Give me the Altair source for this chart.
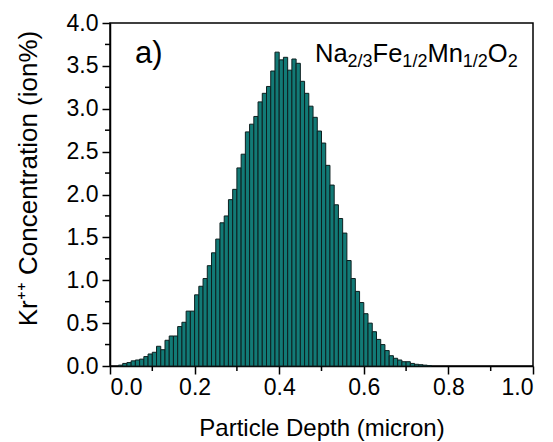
import altair as alt
import numpy as np
import pandas as pd

# ---- data ----
bin_width = 0.01
depth_start = [round(0.02 + 0.01 * i, 2) for i in range(74)]
concentration = [
    0.01, 0.03, 0.04, 0.06, 0.07, 0.08, 0.11, 0.14, 0.16, 0.23,
    0.19, 0.30, 0.35, 0.35, 0.46, 0.51, 0.64, 0.64, 0.83, 0.93,
    1.02, 1.17, 1.32, 1.48, 1.67, 1.75, 1.94, 2.06, 2.31, 2.47,
    2.73, 2.82, 2.91, 3.08, 3.18, 3.26, 3.44, 3.66, 3.57, 3.60,
    3.45, 3.58, 3.53, 3.32, 3.18, 3.03, 2.90, 2.74, 2.60, 2.34,
    2.11, 1.88, 1.72, 1.55, 1.23, 1.02, 0.87, 0.74, 0.61, 0.50,
    0.40, 0.31, 0.25, 0.18, 0.12, 0.09, 0.07, 0.05, 0.05, 0.03,
    0.02, 0.015, 0.01, 0.005,
]
x_major = [0.0, 0.2, 0.4, 0.6, 0.8, 1.0]
x_minor = [0.1, 0.3, 0.5, 0.7, 0.9]
y_major = [0.0, 0.5, 1.0, 1.5, 2.0, 2.5, 3.0, 3.5, 4.0]
y_minor = [0.25, 0.75, 1.25, 1.75, 2.25, 2.75, 3.25, 3.75]

x_title = "Particle Depth (micron)"
y_title = "Kr\u207a\u207a Concentration (ion%)"
panel_label = "a)"
formula_parts = [("Na", False), ("2/3", True), ("Fe", False), ("1/2", True),
                 ("Mn", False), ("1/2", True), ("O", False), ("2", True)]

W, H = 423, 343
FONT = "Liberation Sans"

df = pd.DataFrame({"depth": depth_start,
                   "depth_end": [d + bin_width for d in depth_start],
                   "conc": concentration})

x_scale = alt.Scale(domain=[0, 1], nice=False, zero=False)
y_scale = alt.Scale(domain=[0, 4], nice=False, zero=False)

x_axis = alt.Axis(values=x_major, format=".1f", title=x_title, grid=False,
                  tickSize=8, tickWidth=1.5, tickColor="black",
                  domainColor="black", domainWidth=1.5,
                  labelFontSize=23, labelColor="black", labelPadding=2,
                  titleFontSize=24, titleFontWeight="normal", titleColor="black",
                  titleY=69, titleBaseline="alphabetic")
y_axis = alt.Axis(values=y_major, format=".1f", title=y_title, grid=False,
                  tickSize=8, tickWidth=1.5, tickColor="black",
                  domainColor="black", domainWidth=1.5,
                  labelFontSize=23, labelColor="black", labelPadding=4,
                  titleFontSize=26, titleFontWeight="normal", titleColor="black",
                  titleX=-82, titleY=155, titleAngle=-90,
                  titleAlign="center", titleBaseline="middle")

bars = alt.Chart(df).mark_rect(fill="#127a76", stroke="#0d1f1f", strokeWidth=1).encode(
    x=alt.X("depth:Q", scale=x_scale, axis=x_axis),
    x2="depth_end:Q",
    y=alt.Y("conc:Q", scale=y_scale, axis=y_axis),
    y2=alt.datum(0),
)

xm = alt.Chart(pd.DataFrame({"depth": x_minor})).mark_rule(color="black", strokeWidth=1.5).encode(
    x=alt.X("depth:Q", scale=x_scale, axis=x_axis),
    y=alt.value(H), y2=alt.value(H + 5),
)
ym = alt.Chart(pd.DataFrame({"conc": y_minor})).mark_rule(color="black", strokeWidth=1.5).encode(
    y=alt.Y("conc:Q", scale=y_scale, axis=y_axis),
    x=alt.value(0), x2=alt.value(-5),
)

label = alt.Chart(pd.DataFrame({"t": [panel_label]})).mark_text(
    font=FONT, fontSize=31, align="left", baseline="alphabetic", color="black"
).encode(text="t:N", x=alt.value(25), y=alt.value(40))

# formula with subscripts, pieces laid out left to right
main_fs, sub_fs = 25.5, 18
widths = {"Na": 1.278, "Fe": 1.167, "Mn": 1.389, "O": 0.778,
          "2/3": 1.39, "1/2": 1.39, "2": 0.556}
xpos = 205.0
rows = []
for txt, sub in formula_parts:
    fs = sub_fs if sub else main_fs
    rows.append({"t": txt, "px": xpos, "py": 44 if sub else 39, "fs": fs})
    xpos += widths[txt] * fs
fdf = pd.DataFrame(rows)
formula_layers = []
for fs in [main_fs, sub_fs]:
    sub_df = fdf[fdf["fs"] == fs]
    formula_layers.append(
        alt.Chart(sub_df).mark_text(font=FONT, fontSize=fs, align="left",
                                    baseline="alphabetic", color="black").encode(
            text="t:N",
            x=alt.X("px:Q", scale=None),
            y=alt.Y("py:Q", scale=None),
        )
    )

chart = alt.layer(bars, xm, ym, label, *formula_layers).properties(
    width=W, height=H,
    autosize=alt.AutoSizeParams(type="none"),
    padding={"left": 110, "top": 23, "right": 20, "bottom": 76},
    background="white",
).configure(font=FONT).configure_view(stroke="black", strokeWidth=1.5)

chart.save("out.html", embed_options={"renderer": "svg", "actions": False})
